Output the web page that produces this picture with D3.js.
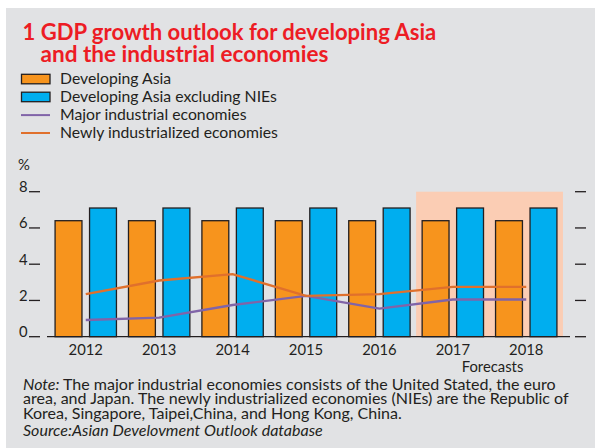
<!DOCTYPE html>
<html lang="en">
<head>
  <meta charset="UTF-8" />
  <title>GDP growth outlook for developing Asia</title>
  <style>
    body { margin: 0; background: #fff; }
    svg text { font-family: 'Lato', 'Open Sans', sans-serif; fill: #231f20; }
    .title { fill: #ed1c24; font-weight: 700; }
    .bar { stroke: #231f20; stroke-width: 1.3px; }
    .tick-line { stroke: #231f20; stroke-width: 1.3px; }
  </style>
</head>
<body>
  <svg id="chart" width="595" height="448"></svg>

  <script src="https://d3js.org/d3.v7.min.js"></script>
  <script>
    // data
    const years = ["2012", "2013", "2014", "2015", "2016", "2017", "2018"];
    const forecastYears = ["2017", "2018"];
    const developingAsia = [6.4, 6.4, 6.4, 6.4, 6.4, 6.4, 6.4];
    const developingAsiaExNIEs = [7.1, 7.1, 7.1, 7.1, 7.1, 7.1, 7.1];
    const majorIndustrial = [0.92, 1.05, 1.75, 2.25, 1.55, 2.05, 2.05];
    const newlyIndustrialized = [2.35, 3.1, 3.45, 2.25, 2.35, 2.75, 2.75];
    const yTicks = [0, 2, 4, 6, 8];

    const barSeries = [
      { name: "Developing Asia", values: developingAsia, color: "#f7941d" },
      { name: "Developing Asia excluding NIEs", values: developingAsiaExNIEs, color: "#00aeef" }
    ];
    const lineSeries = [
      { name: "Major industrial economies", values: majorIndustrial, color: "#8064a8" },
      { name: "Newly industrialized economies", values: newlyIndustrialized, color: "#e0702c" }
    ];

    const noteLines = [
      "The major industrial economies consists of the United Stated, the euro",
      "area, and Japan. The newly industrialized economies (NIEs) are the Republic of",
      "Korea, Singapore, Taipei,China, and Hong Kong, China."
    ];

    const svg = d3.select("#chart");

    // scale a text's font size so it spans a given width
    function fitWidth(sel, width) {
      const w = sel.node().getComputedTextLength();
      const fs = parseFloat(sel.style("font-size"));
      sel.style("font-size", (fs * width / w) + "px");
      return fs * width / w;
    }

    // grey panel
    svg.append("rect")
      .attr("x", 6).attr("y", 8)
      .attr("width", 589).attr("height", 440)
      .attr("fill", "#e1e2e4");

    // title
    const t1 = svg.append("text").attr("class", "title")
      .attr("x", 22.5).attr("y", 40).style("font-size", "20px")
      .text("1 GDP growth outlook for developing Asia");
    fitWidth(t1, 414);
    const t2 = svg.append("text").attr("class", "title")
      .attr("x", 40.5).attr("y", 62.3).style("font-size", "20px")
      .text("and the industrial economies");
    fitWidth(t2, 288);

    // legend
    const legendItems = barSeries.map(s => ({ ...s, type: "bar" }))
      .concat(lineSeries.map(s => ({ ...s, type: "line" })));
    const legend = svg.append("g");
    let legendFont = 15;
    legendItems.forEach((d, i) => {
      const y = 83.8 + i * 17.9;
      if (d.type === "bar") {
        legend.append("rect").attr("class", "bar")
          .attr("x", 21.5).attr("y", y - 9.5)
          .attr("width", 28.5).attr("height", 9.5)
          .attr("fill", d.color);
      } else {
        legend.append("line")
          .attr("x1", 21).attr("x2", 50)
          .attr("y1", y - 4.5).attr("y2", y - 4.5)
          .attr("stroke", d.color).attr("stroke-width", 2);
      }
      const txt = legend.append("text")
        .attr("x", 60).attr("y", y)
        .style("font-size", legendFont + "px")
        .text(d.name);
      if (i === 1) legendFont = fitWidth(txt, 217);
    });
    legend.selectAll("text").style("font-size", legendFont + "px");

    // scales
    const x0 = d3.scaleBand().domain(years).range([47, 565])
      .paddingInner(0.164).paddingOuter(0.11);
    const x1 = d3.scaleBand().domain(barSeries.map(s => s.name))
      .range([0, x0.bandwidth()]).paddingInner(0.22);
    const y = d3.scaleLinear().domain([0, 8]).range([336.7, 191.7]);

    // forecast shading
    const gap = x0.step() * x0.paddingInner() / 2;
    const fStart = x0(forecastYears[0]) - gap;
    const fEnd = x0(forecastYears[forecastYears.length - 1]) + x0.bandwidth() + gap;
    svg.append("rect")
      .attr("x", fStart).attr("y", y(8))
      .attr("width", fEnd - fStart).attr("height", y(0) - y(8))
      .attr("fill", "#fbcdb4");

    // bars
    barSeries.forEach(s => {
      svg.append("g").selectAll("rect")
        .data(years.map((yr, i) => ({ yr, v: s.values[i] })))
        .join("rect")
        .attr("class", "bar")
        .attr("x", d => x0(d.yr) + x1(s.name))
        .attr("y", d => y(d.v))
        .attr("width", x1.bandwidth())
        .attr("height", d => y(0) - y(d.v))
        .attr("fill", s.color);
    });

    // lines
    const line = d3.line()
      .x(d => x0(d.yr) + x0.bandwidth() / 2)
      .y(d => y(d.v));
    lineSeries.forEach(s => {
      svg.append("path")
        .datum(years.map((yr, i) => ({ yr, v: s.values[i] })))
        .attr("fill", "none")
        .attr("stroke", s.color)
        .attr("stroke-width", 2.4)
        .attr("d", line);
    });

    // x axis
    svg.append("line").attr("class", "tick-line")
      .attr("x1", 47).attr("x2", 570)
      .attr("y1", y(0)).attr("y2", y(0));
    svg.append("g").selectAll("text")
      .data(years)
      .join("text")
      .attr("x", d => x0(d) + x0.bandwidth() / 2)
      .attr("y", 355)
      .attr("text-anchor", "middle")
      .style("font-size", "14.8px")
      .text(d => d);
    svg.append("text")
      .attr("x", (fStart + fEnd) / 2 + 3).attr("y", 371.5)
      .attr("text-anchor", "middle")
      .style("font-size", "14.8px")
      .text("Forecasts");

    // y axis, left and right tick marks
    const yAxis = svg.append("g");
    yAxis.selectAll(".left").data(yTicks).join("line")
      .attr("class", "tick-line")
      .attr("x1", 29).attr("x2", 40)
      .attr("y1", d => y(d)).attr("y2", d => y(d));
    yAxis.selectAll(".right").data(yTicks).join("line")
      .attr("class", "tick-line")
      .attr("x1", 575).attr("x2", 586)
      .attr("y1", d => y(d)).attr("y2", d => y(d));
    yAxis.selectAll("text").data(yTicks).join("text")
      .attr("x", 27.5).attr("y", d => y(d) + 0.3)
      .attr("text-anchor", "end")
      .style("font-size", "14.8px")
      .text(d => d);
    svg.append("text")
      .attr("x", 18).attr("y", 170)
      .style("font-size", "14.8px")
      .text("%");

    // note and source
    const notes = svg.append("g");
    const noteBase = [389.5, 404.3, 419.1];
    const noteLabel = notes.append("text")
      .attr("x", 23).attr("y", noteBase[0])
      .style("font-size", "15px").style("font-style", "italic")
      .text("Note:");
    const n1 = notes.append("text")
      .attr("x", 63).attr("y", noteBase[0])
      .style("font-size", "15px")
      .text(noteLines[0]);
    const noteFont = fitWidth(n1, 493);
    noteLabel.style("font-size", noteFont + "px");
    noteLines.slice(1).forEach((l, i) => {
      notes.append("text")
        .attr("x", 23).attr("y", noteBase[i + 1])
        .style("font-size", noteFont + "px")
        .text(l);
    });
    notes.append("text")
      .attr("x", 23).attr("y", 436)
      .style("font-size", noteFont + "px")
      .style("font-style", "italic")
      .text("Source:Asian Develovment Outlook database");
  </script>
</body>
</html>
